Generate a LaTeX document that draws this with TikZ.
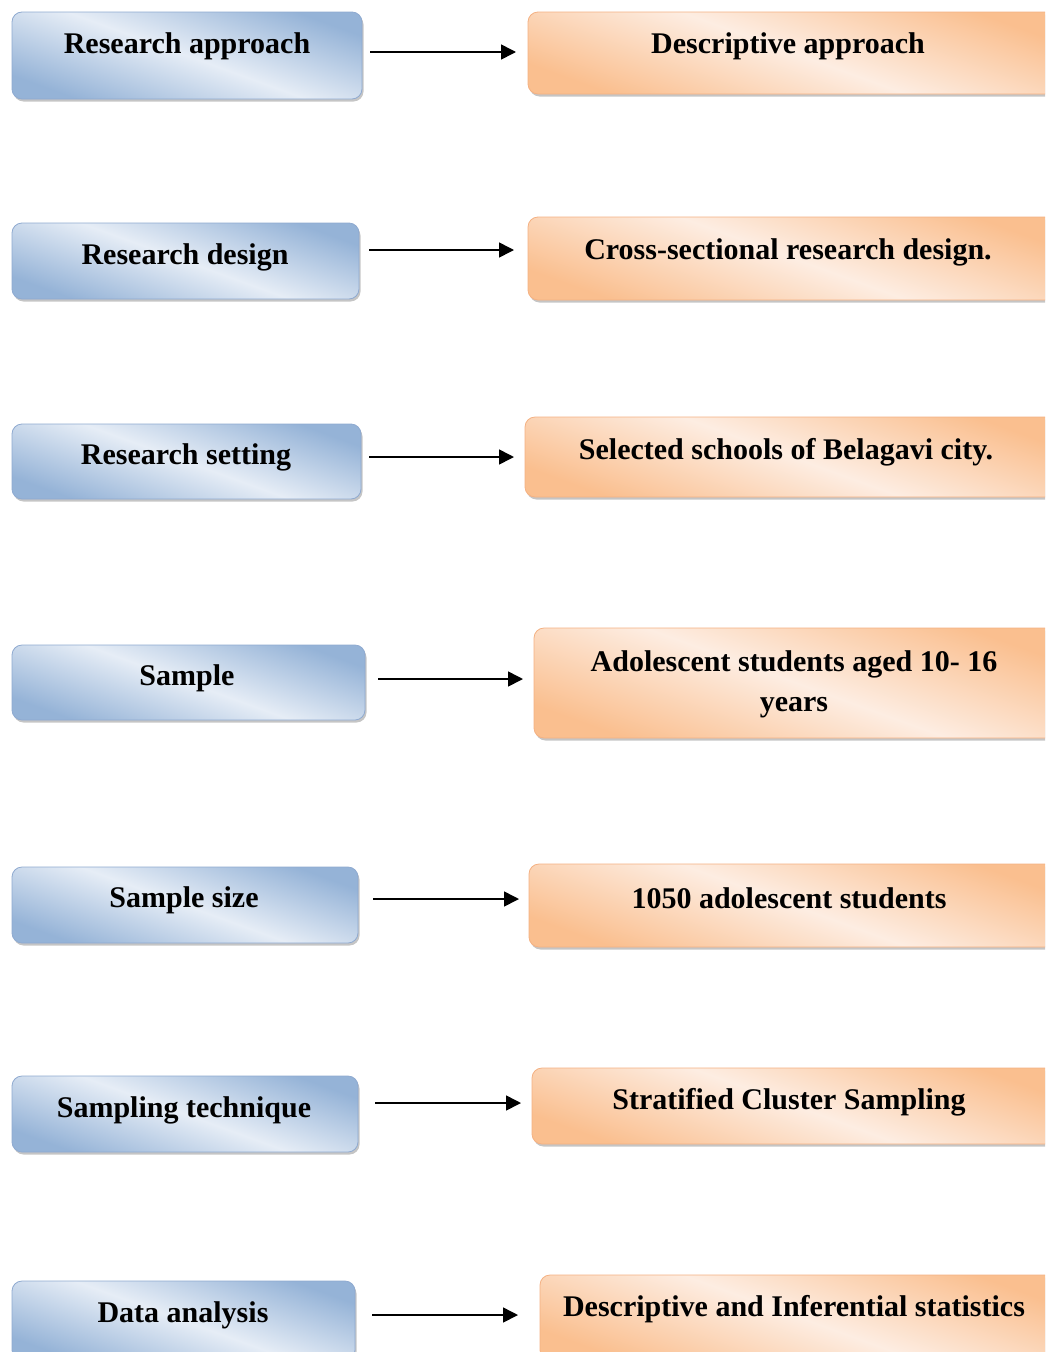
\documentclass[tikz,border=0pt]{standalone}
\usepackage{fontspec}
\setmainfont{Liberation Serif}
\usepackage{tikz}
\usetikzlibrary{arrows.meta,shadows}

\definecolor{blueedge}{HTML}{95B3D7}
\definecolor{bluemid}{HTML}{E6EDF6}
\definecolor{blueline}{HTML}{8FAAD0}
\definecolor{orangeedge}{HTML}{FABF8F}
\definecolor{orangemid}{HTML}{FDEDE2}
\definecolor{orangeline}{HTML}{F4B183}

\tikzset{
  box/.style = {rounded corners=10pt, line width=0.8pt, inner sep=0pt,
                drop shadow={shadow xshift=1.5pt, shadow yshift=-2.5pt, fill=black!45}},
  stepleft/.style = {box, draw=blueline, top color=blueedge, bottom color=blueedge,
                     middle color=bluemid, shading angle=-20},
  stepright/.style = {box, draw=orangeline, top color=orangeedge, bottom color=orangeedge,
                      middle color=orangemid, shading angle=-20},
  txt/.style = {font=\fontsize{30}{40}\selectfont\bfseries, align=center},
  arr/.style = {line width=1.6pt, -{Triangle[length=15pt,width=15pt]}},
}

\begin{document}
\begin{tikzpicture}[x=1pt, y=-1pt]
  \useasboundingbox (0,0) rectangle (1045,1352);
  \clip (0,0) rectangle (1045,1352);

  % left column
  \node[stepleft, minimum width=350pt, minimum height=87pt] (l1) at (187,55.5) {};
  \node[stepleft, minimum width=347pt, minimum height=76pt] (l2) at (185.5,261) {};
  \node[stepleft, minimum width=349pt, minimum height=75pt] (l3) at (186.5,461.5) {};
  \node[stepleft, minimum width=353pt, minimum height=75pt] (l4) at (188.5,682.5) {};
  \node[stepleft, minimum width=346pt, minimum height=76pt] (l5) at (185,905) {};
  \node[stepleft, minimum width=346pt, minimum height=76pt] (l6) at (185,1114) {};
  \node[stepleft, minimum width=343pt, minimum height=79pt] (l7) at (183.5,1320.5) {};

  \node[txt] (tl1) at (187,46) {Research approach};
  \node[txt] (tl2) at (185,257) {Research design};
  \node[txt] (tl3) at (186,457) {Research setting};
  \node[txt] (tl4) at (187,678) {Sample};
  \node[txt] (tl5) at (184,900) {Sample size};
  \node[txt] (tl6) at (184,1110) {Sampling technique};
  \node[txt] (tl7) at (183,1315) {Data analysis};

  % right column
  \node[stepright, minimum width=532pt, minimum height=82pt] (r1) at (794,53) {};
  \node[stepright, minimum width=532pt, minimum height=83pt] (r2) at (794,258.5) {};
  \node[stepright, minimum width=535pt, minimum height=80pt] (r3) at (792.5,457) {};
  \node[stepright, minimum width=526pt, minimum height=110pt] (r4) at (797,683) {};
  \node[stepright, minimum width=531pt, minimum height=83pt] (r5) at (794.5,905.5) {};
  \node[stepright, minimum width=528pt, minimum height=76pt] (r6) at (796,1106) {};
  \node[stepright, minimum width=520pt, minimum height=85pt] (r7) at (800,1317.5) {};

  \node[txt] (tr1) at (788,46) {Descriptive approach};
  \node[txt] (tr2) at (788,252) {Cross-sectional research design.};
  \node[txt] (tr3) at (786,452) {Selected schools of Belagavi city.};
  \node[txt] (tr4) at (794,684) {Adolescent students aged 10- 16\\years};
  \node[txt] (tr5) at (789,898) {1050 adolescent students};
  \node[txt] (tr6) at (789,1102) {Stratified Cluster Sampling};
  \node[txt] (tr7) at (794,1309) {Descriptive and Inferential statistics};

  % arrows
  \coordinate (s1) at (370,52);   \coordinate (e1) at (516,52);
  \coordinate (s2) at (369,250);  \coordinate (e2) at (514,250);
  \coordinate (s3) at (369,457);  \coordinate (e3) at (514,457);
  \coordinate (s4) at (378,679);  \coordinate (e4) at (523,679);
  \coordinate (s5) at (373,899);  \coordinate (e5) at (519,899);
  \coordinate (s6) at (375,1103); \coordinate (e6) at (521,1103);
  \coordinate (s7) at (372,1315); \coordinate (e7) at (518,1315);

  \draw[arr] (s1) -- (e1);
  \draw[arr] (s2) -- (e2);
  \draw[arr] (s3) -- (e3);
  \draw[arr] (s4) -- (e4);
  \draw[arr] (s5) -- (e5);
  \draw[arr] (s6) -- (e6);
  \draw[arr] (s7) -- (e7);
\end{tikzpicture}
\end{document}
